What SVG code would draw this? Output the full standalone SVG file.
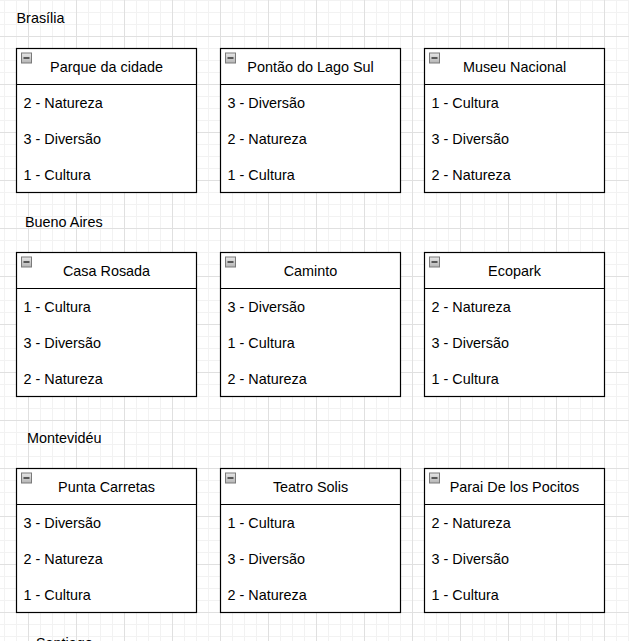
<svg xmlns="http://www.w3.org/2000/svg" xmlns:xlink="http://www.w3.org/1999/xlink" width="629" height="641" viewBox="0 0 629 641">
<style>
text { font-family: "Liberation Sans", Arial, Helvetica, sans-serif; font-size: 14.4px; fill: #000; }
.box { fill: #fff; stroke: #000; stroke-width: 1.2; }
.sep { stroke: #000; stroke-width: 1.2; }
.hdr { text-anchor: middle; }
</style>
<defs>
<pattern id="minor" patternUnits="userSpaceOnUse" x="4" y="0" width="12" height="12">
<path d="M0.5 0 V12 M0 0.5 H12" stroke="#f2f2f2" stroke-width="1" fill="none"/>
</pattern>
<pattern id="major" patternUnits="userSpaceOnUse" x="28" y="-12" width="48" height="48">
<path d="M0.5 0 V48 M0 0.5 H48" stroke="#e0e0e0" stroke-width="1" fill="none"/>
</pattern>
<linearGradient id="icg" x1="0" y1="0" x2="0" y2="1">
<stop offset="0" stop-color="#e8e8e8"/>
<stop offset="1" stop-color="#b4b4b4"/>
</linearGradient>
<g id="collapse">
<rect x="0.5" y="0.5" width="10" height="10" fill="url(#icg)" stroke="#7a7a7a" stroke-width="1"/>
<path d="M2.5 5.5 H8.5" stroke="#3a3a3a" stroke-width="1.6"/>
</g>
</defs>
<rect width="629" height="641" fill="#fff"/>
<rect width="629" height="641" fill="url(#minor)"/>
<rect width="629" height="641" fill="url(#major)"/>

<g id="labels">
<text x="16.5" y="23.3">Brasília</text>
<text x="25" y="227.3">Bueno Aires</text>
<text x="27" y="442.5">Montevidéu</text>
<text x="36" y="647.6">Santiago</text>
</g>

<g id="connectors"></g>

<g id="parque-da-cidade">
<rect class="box" x="16.5" y="48.5" width="180" height="144"/>
<line class="sep" x1="16.5" y1="84.5" x2="196.5" y2="84.5"/>
<use xlink:href="#collapse" x="21" y="52.5"/>
<text class="hdr" x="106.5" y="71.5">Parque da cidade</text>
<text x="23.5" y="107.5">2 - Natureza</text>
<text x="23.5" y="143.5">3 - Diversão</text>
<text x="23.5" y="179.5">1 - Cultura</text>
</g>
<g id="pontao-do-lago-sul">
<rect class="box" x="220.5" y="48.5" width="180" height="144"/>
<line class="sep" x1="220.5" y1="84.5" x2="400.5" y2="84.5"/>
<use xlink:href="#collapse" x="225" y="52.5"/>
<text class="hdr" x="310.5" y="71.5">Pontão do Lago Sul</text>
<text x="227.5" y="107.5">3 - Diversão</text>
<text x="227.5" y="143.5">2 - Natureza</text>
<text x="227.5" y="179.5">1 - Cultura</text>
</g>
<g id="museu-nacional">
<rect class="box" x="424.5" y="48.5" width="180" height="144"/>
<line class="sep" x1="424.5" y1="84.5" x2="604.5" y2="84.5"/>
<use xlink:href="#collapse" x="429" y="52.5"/>
<text class="hdr" x="514.5" y="71.5">Museu Nacional</text>
<text x="431.5" y="107.5">1 - Cultura</text>
<text x="431.5" y="143.5">3 - Diversão</text>
<text x="431.5" y="179.5">2 - Natureza</text>
</g>

<g id="casa-rosada">
<rect class="box" x="16.5" y="252.5" width="180" height="144"/>
<line class="sep" x1="16.5" y1="288.5" x2="196.5" y2="288.5"/>
<use xlink:href="#collapse" x="21" y="256.5"/>
<text class="hdr" x="106.5" y="275.5">Casa Rosada</text>
<text x="23.5" y="311.5">1 - Cultura</text>
<text x="23.5" y="347.5">3 - Diversão</text>
<text x="23.5" y="383.5">2 - Natureza</text>
</g>
<g id="caminto">
<rect class="box" x="220.5" y="252.5" width="180" height="144"/>
<line class="sep" x1="220.5" y1="288.5" x2="400.5" y2="288.5"/>
<use xlink:href="#collapse" x="225" y="256.5"/>
<text class="hdr" x="310.5" y="275.5">Caminto</text>
<text x="227.5" y="311.5">3 - Diversão</text>
<text x="227.5" y="347.5">1 - Cultura</text>
<text x="227.5" y="383.5">2 - Natureza</text>
</g>
<g id="ecopark">
<rect class="box" x="424.5" y="252.5" width="180" height="144"/>
<line class="sep" x1="424.5" y1="288.5" x2="604.5" y2="288.5"/>
<use xlink:href="#collapse" x="429" y="256.5"/>
<text class="hdr" x="514.5" y="275.5">Ecopark</text>
<text x="431.5" y="311.5">2 - Natureza</text>
<text x="431.5" y="347.5">3 - Diversão</text>
<text x="431.5" y="383.5">1 - Cultura</text>
</g>

<g id="punta-carretas">
<rect class="box" x="16.5" y="468.5" width="180" height="144"/>
<line class="sep" x1="16.5" y1="504.5" x2="196.5" y2="504.5"/>
<use xlink:href="#collapse" x="21" y="472.5"/>
<text class="hdr" x="106.5" y="491.5">Punta Carretas</text>
<text x="23.5" y="527.5">3 - Diversão</text>
<text x="23.5" y="563.5">2 - Natureza</text>
<text x="23.5" y="599.5">1 - Cultura</text>
</g>
<g id="teatro-solis">
<rect class="box" x="220.5" y="468.5" width="180" height="144"/>
<line class="sep" x1="220.5" y1="504.5" x2="400.5" y2="504.5"/>
<use xlink:href="#collapse" x="225" y="472.5"/>
<text class="hdr" x="310.5" y="491.5">Teatro Solis</text>
<text x="227.5" y="527.5">1 - Cultura</text>
<text x="227.5" y="563.5">3 - Diversão</text>
<text x="227.5" y="599.5">2 - Natureza</text>
</g>
<g id="parai-de-los-pocitos">
<rect class="box" x="424.5" y="468.5" width="180" height="144"/>
<line class="sep" x1="424.5" y1="504.5" x2="604.5" y2="504.5"/>
<use xlink:href="#collapse" x="429" y="472.5"/>
<text class="hdr" x="514.5" y="491.5">Parai De los Pocitos</text>
<text x="431.5" y="527.5">2 - Natureza</text>
<text x="431.5" y="563.5">3 - Diversão</text>
<text x="431.5" y="599.5">1 - Cultura</text>
</g>
</svg>
